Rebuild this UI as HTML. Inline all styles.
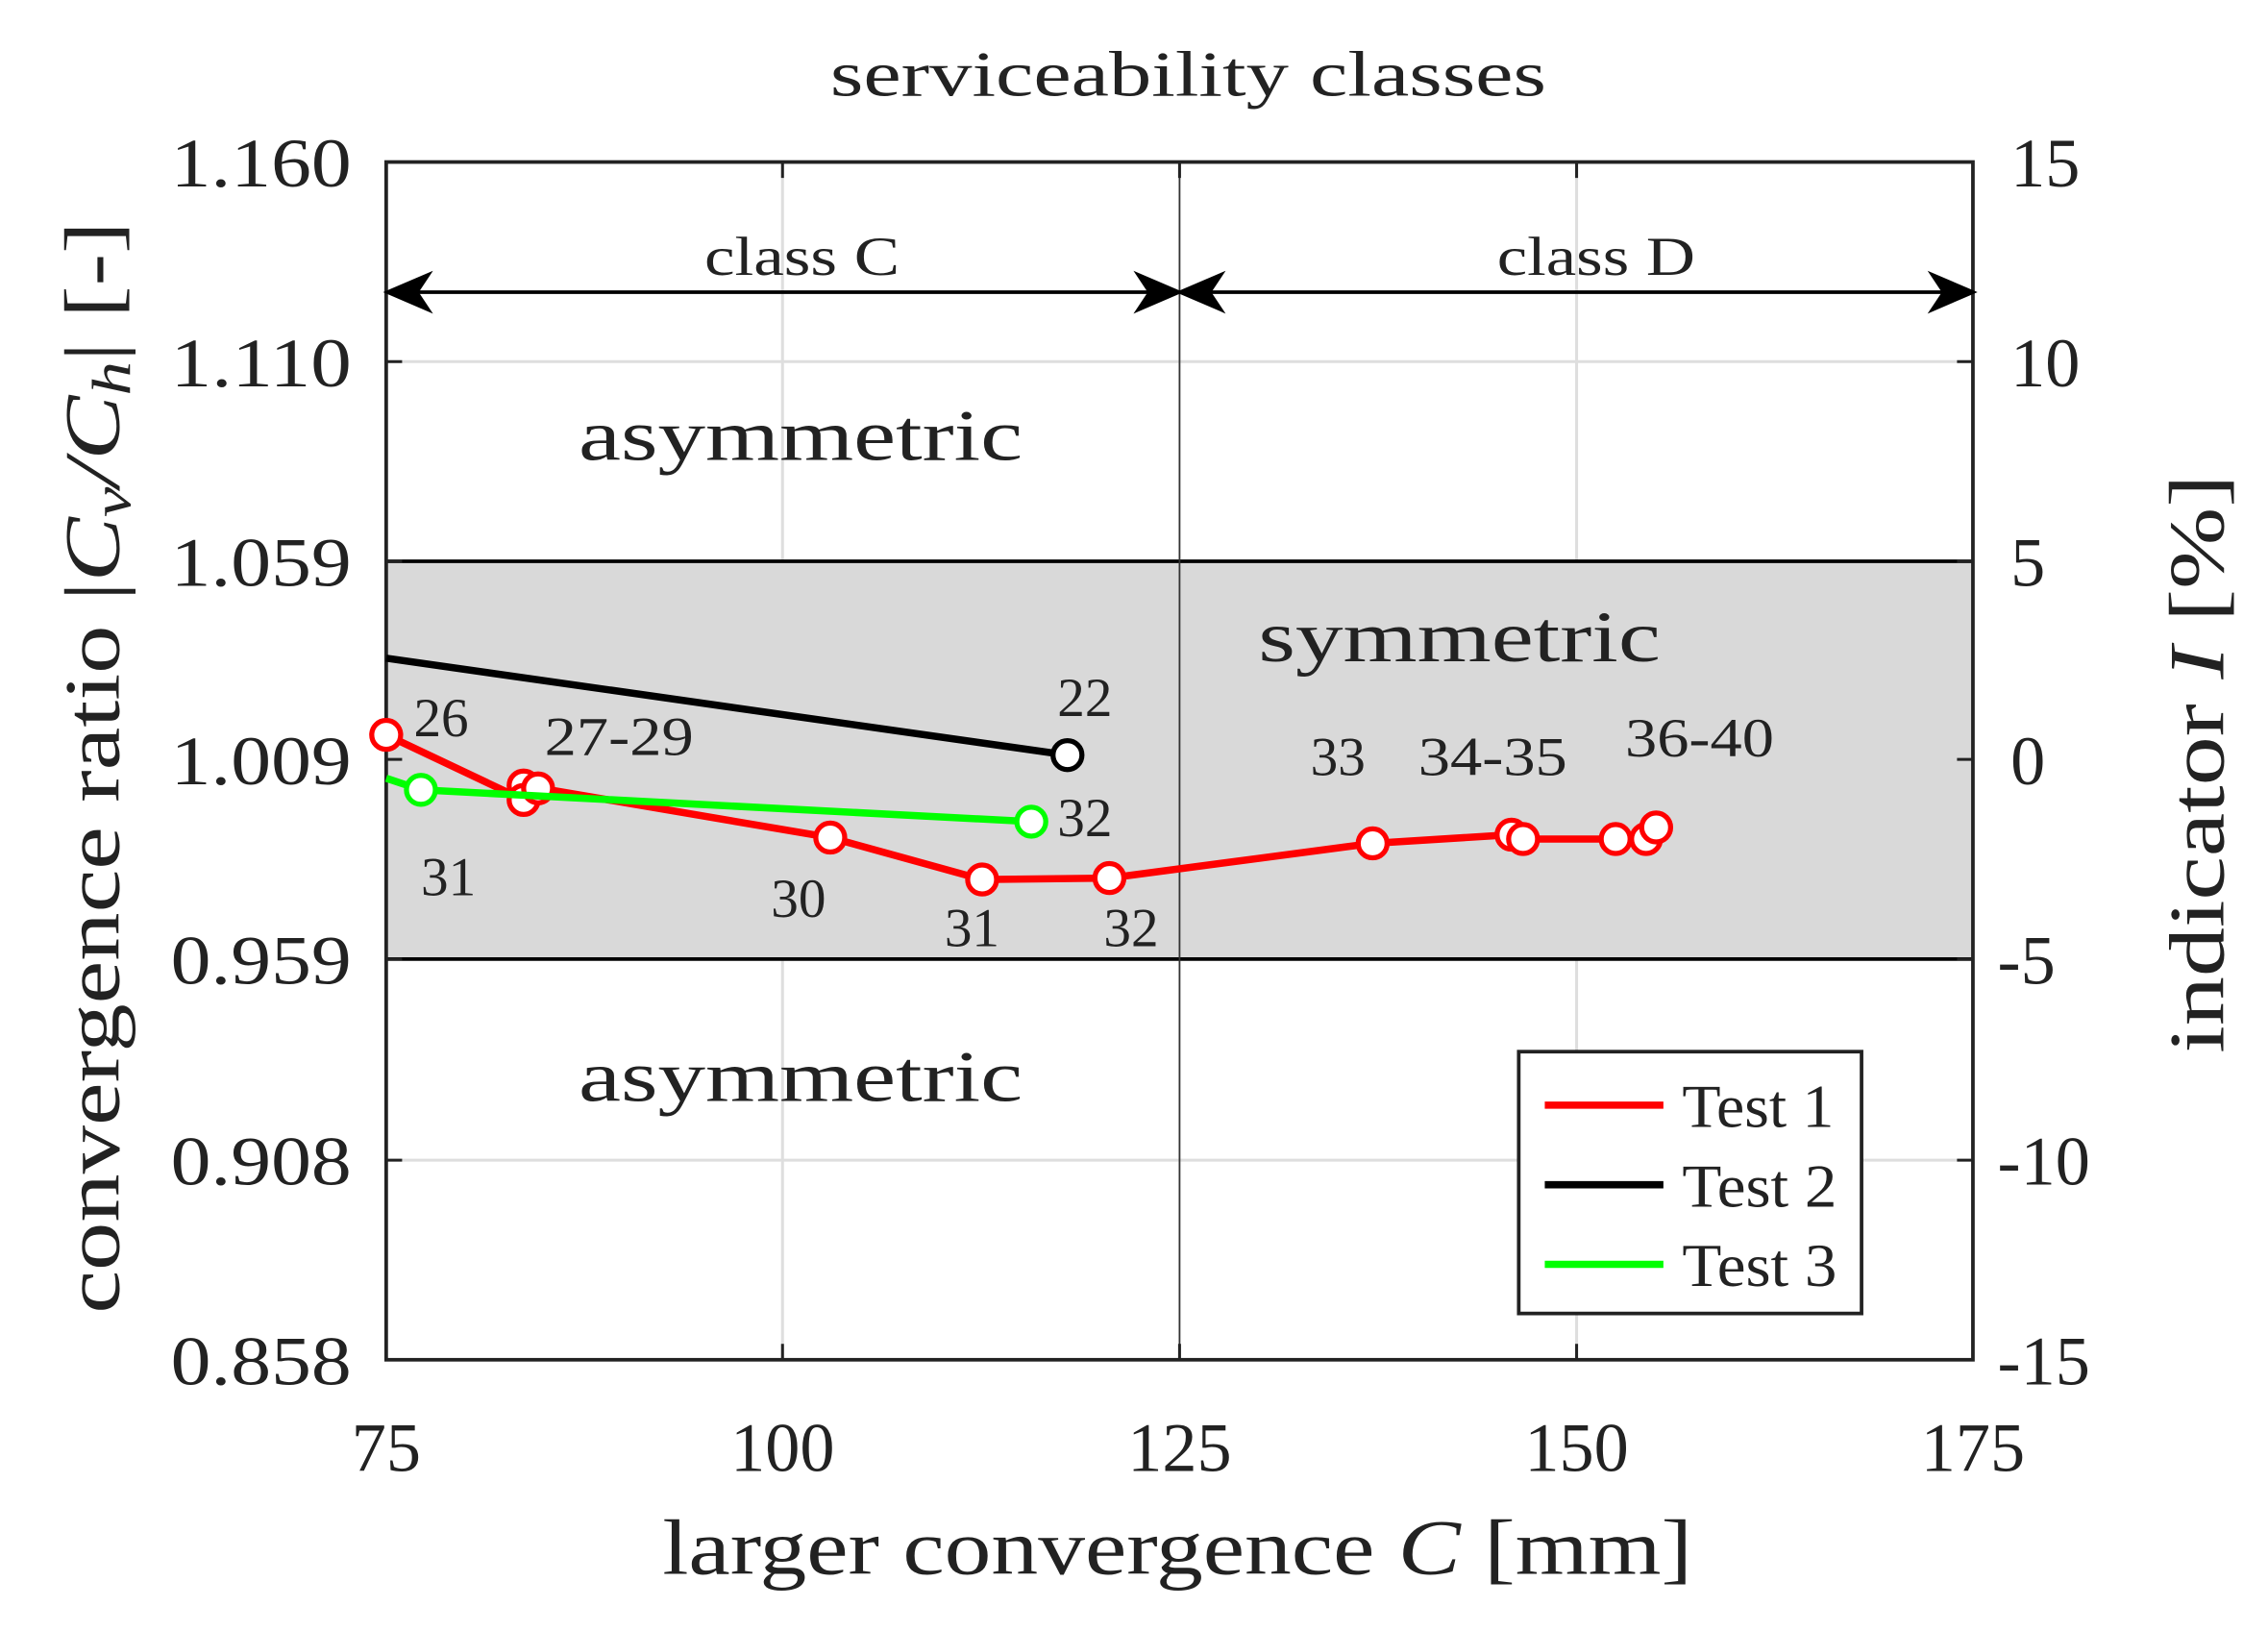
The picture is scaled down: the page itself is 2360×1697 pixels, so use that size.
<!DOCTYPE html>
<html><head><meta charset="utf-8"><style>
html,body{margin:0;padding:0;background:#fff;}
svg{display:block;}
text{font-family:"Liberation Serif",serif;fill:#222;}
</style></head><body>
<svg width="2360" height="1697" viewBox="0 0 1568 1127.5" xmlns="http://www.w3.org/2000/svg">
<rect width="1568" height="1127.5" fill="#fff"/>
<g stroke="#dedede" stroke-width="2">
<line x1="541" y1="112" x2="541" y2="940"/>
<line x1="1090" y1="112" x2="1090" y2="940"/>
<line x1="267" y1="250" x2="1364" y2="250"/>
<line x1="267" y1="802" x2="1364" y2="802"/>
</g>
<rect x="267" y="388" width="1097" height="275" fill="#d9d9d9"/>
<line x1="267" y1="388" x2="1364" y2="388" stroke="#000" stroke-width="2.5"/>
<line x1="267" y1="663" x2="1364" y2="663" stroke="#000" stroke-width="2.5"/>
<line x1="815.5" y1="112" x2="815.5" y2="940" stroke="#333" stroke-width="1.2"/>
<rect x="267" y="112" width="1097" height="828" fill="none" stroke="#222" stroke-width="2.5"/>
<g stroke="#222" stroke-width="2">
<line x1="541" y1="940" x2="541" y2="929"/><line x1="815.5" y1="940" x2="815.5" y2="929"/><line x1="1090" y1="940" x2="1090" y2="929"/>
<line x1="541" y1="112" x2="541" y2="123"/><line x1="815.5" y1="112" x2="815.5" y2="123"/><line x1="1090" y1="112" x2="1090" y2="123"/>
<line x1="267" y1="250" x2="278" y2="250"/><line x1="267" y1="388" x2="278" y2="388"/><line x1="267" y1="525" x2="278" y2="525"/><line x1="267" y1="663" x2="278" y2="663"/><line x1="267" y1="802" x2="278" y2="802"/>
<line x1="1364" y1="250" x2="1353" y2="250"/><line x1="1364" y1="388" x2="1353" y2="388"/><line x1="1364" y1="525" x2="1353" y2="525"/><line x1="1364" y1="663" x2="1353" y2="663"/><line x1="1364" y1="802" x2="1353" y2="802"/>
</g>
<g font-size="48">
<text x="118" y="129" textLength="125" lengthAdjust="spacingAndGlyphs">1.160</text>
<text x="118" y="267" textLength="125" lengthAdjust="spacingAndGlyphs">1.110</text>
<text x="118" y="405" textLength="125" lengthAdjust="spacingAndGlyphs">1.059</text>
<text x="118" y="542" textLength="125" lengthAdjust="spacingAndGlyphs">1.009</text>
<text x="118" y="680" textLength="125" lengthAdjust="spacingAndGlyphs">0.959</text>
<text x="118" y="819" textLength="125" lengthAdjust="spacingAndGlyphs">0.908</text>
<text x="118" y="957" textLength="125" lengthAdjust="spacingAndGlyphs">0.858</text>
</g>
<g font-size="48" text-anchor="start">
<text x="1390" y="129">15</text><text x="1390" y="267">10</text><text x="1390" y="405">5</text><text x="1390" y="542">0</text><text x="1381" y="680">-5</text><text x="1381" y="819">-10</text><text x="1381" y="957">-15</text>
</g>
<g font-size="48" text-anchor="middle">
<text x="267" y="1017">75</text><text x="541" y="1017">100</text><text x="815.5" y="1017">125</text><text x="1090" y="1017">150</text><text x="1364" y="1017">175</text>
</g>
<text x="574" y="66" font-size="44" textLength="495" lengthAdjust="spacingAndGlyphs">serviceability classes</text>
<text x="458" y="1088" font-size="54" textLength="712" lengthAdjust="spacingAndGlyphs">larger convergence <tspan font-style="italic">C</tspan> [mm]</text>
<text transform="translate(82,908) rotate(-90)" font-size="54" textLength="755" lengthAdjust="spacingAndGlyphs">convergence ratio |<tspan font-style="italic">C<tspan font-size="38" dy="8">v</tspan><tspan dy="-8">/C</tspan><tspan font-size="38" dy="8">h</tspan></tspan><tspan dy="-8">| [-]</tspan></text>
<text transform="translate(1537,728) rotate(-90)" font-size="54" textLength="400" lengthAdjust="spacingAndGlyphs">indicator <tspan font-style="italic">I</tspan> [%]</text>
<g stroke="#000" stroke-width="2.5" fill="#000">
<line x1="280" y1="202" x2="803" y2="202"/>
<line x1="828" y1="202" x2="1351" y2="202"/>
<path d="M268,202 L296,190 L288,202 L296,214Z"/>
<path d="M815,202 L787,190 L795,202 L787,214Z"/>
<path d="M816,202 L844,190 L836,202 L844,214Z"/>
<path d="M1364,202 L1336,190 L1344,202 L1336,214Z"/>
</g>
<text x="487" y="190" font-size="38" textLength="135" lengthAdjust="spacingAndGlyphs">class C</text>
<text x="1035" y="190" font-size="38" textLength="137" lengthAdjust="spacingAndGlyphs">class D</text>
<text x="400" y="318" font-size="50" textLength="307" lengthAdjust="spacingAndGlyphs">asymmetric</text>
<text x="400" y="761" font-size="50" textLength="307" lengthAdjust="spacingAndGlyphs">asymmetric</text>
<text x="870" y="457" font-size="50" textLength="278" lengthAdjust="spacingAndGlyphs">symmetric</text>
<polyline points="267,455 738,522" fill="none" stroke="#000" stroke-width="5"/>
<circle cx="738" cy="522" r="10" fill="#fff" stroke="#000" stroke-width="3.5"/>
<polyline points="267,508 362,553 372,545 362,543 574,579 679,608 767,607 949,583 1045,577 1053,580 1117,580 1138,580 1145,572" fill="none" stroke="#f00" stroke-width="5"/>
<g fill="#fff" stroke="#f00" stroke-width="3.5">
<circle cx="267" cy="508" r="10"/><circle cx="362" cy="543" r="10"/><circle cx="362" cy="553" r="10"/><circle cx="372" cy="545" r="10"/><circle cx="574" cy="579" r="10"/><circle cx="679" cy="608" r="10"/><circle cx="767" cy="607" r="10"/><circle cx="949" cy="583" r="10"/><circle cx="1045" cy="577" r="10"/><circle cx="1053" cy="580" r="10"/><circle cx="1117" cy="580" r="10"/><circle cx="1138" cy="580" r="10"/><circle cx="1145" cy="572" r="10"/>
</g>
<polyline points="267,538 291,546 713,568" fill="none" stroke="#0f0" stroke-width="5"/>
<g fill="#fff" stroke="#0f0" stroke-width="3.5"><circle cx="291" cy="546" r="10"/><circle cx="713" cy="568" r="10"/></g>
<g font-size="38" text-anchor="middle">
<text x="305" y="509">26</text><text x="428" y="522" textLength="103" lengthAdjust="spacingAndGlyphs">27-29</text><text x="310" y="619">31</text><text x="552" y="634">30</text><text x="672" y="654">31</text><text x="782" y="654">32</text><text x="750" y="495">22</text><text x="750" y="578">32</text><text x="925" y="536">33</text><text x="1032" y="536" textLength="103" lengthAdjust="spacingAndGlyphs">34-35</text><text x="1175" y="523" textLength="103" lengthAdjust="spacingAndGlyphs">36-40</text>
</g>
<rect x="1050" y="727" width="237" height="181" fill="#fff" stroke="#222" stroke-width="2.5"/>
<line x1="1068" y1="764" x2="1150" y2="764" stroke="#f00" stroke-width="5"/>
<line x1="1068" y1="819" x2="1150" y2="819" stroke="#000" stroke-width="5"/>
<line x1="1068" y1="874" x2="1150" y2="874" stroke="#0f0" stroke-width="5"/>
<g font-size="42"><text x="1163" y="779" textLength="105" lengthAdjust="spacingAndGlyphs">Test 1</text><text x="1163" y="834" textLength="107" lengthAdjust="spacingAndGlyphs">Test 2</text><text x="1163" y="889" textLength="107" lengthAdjust="spacingAndGlyphs">Test 3</text></g>
</svg>
</body></html>
